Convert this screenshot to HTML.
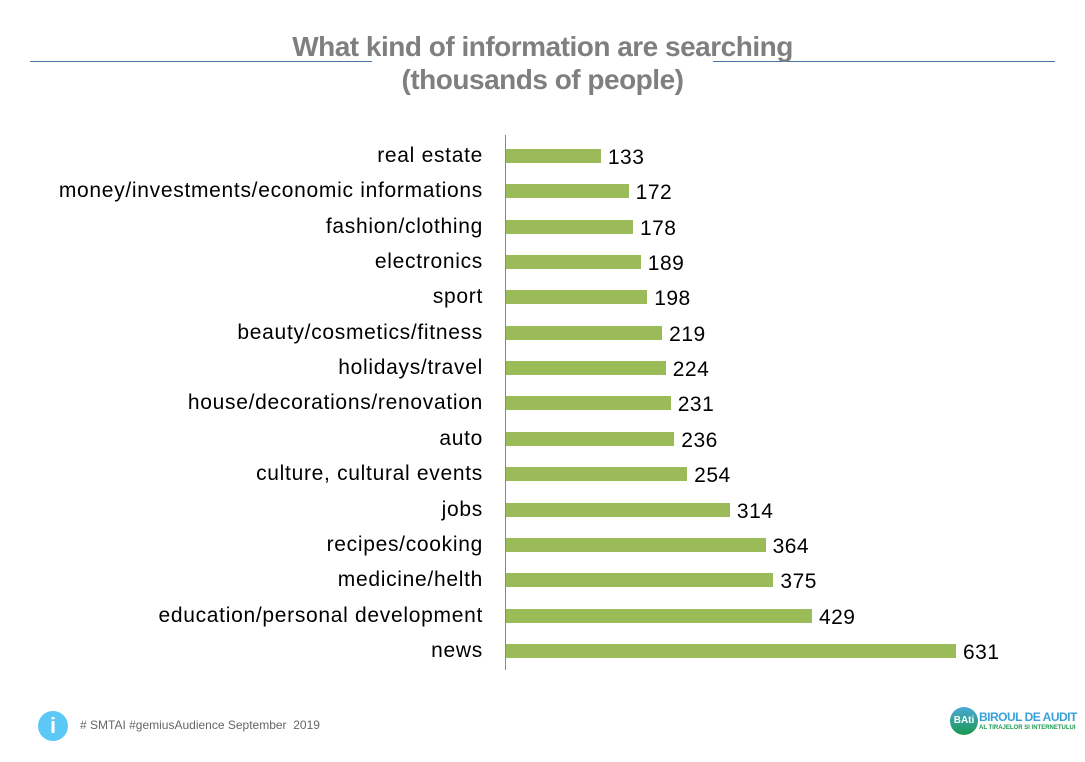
<!DOCTYPE html>
<html><head><meta charset="utf-8"><style>
body{margin:0;width:1085px;height:762px;background:#fff;position:relative;overflow:hidden;font-family:"Liberation Sans",sans-serif}
.t{position:absolute;left:0;width:1085px;text-align:center;color:#7f7f7f;font-weight:bold;font-size:28px;letter-spacing:-0.5px;line-height:32px}
.hl{position:absolute;top:61px;height:1px;background:#4a74a8}
.lb{position:absolute;right:602px;font-size:21px;letter-spacing:0.7px;color:#000;white-space:nowrap;line-height:22px}
.bar{position:absolute;left:506px;height:14px;background:#9bbb59}
.v{position:absolute;font-size:21px;letter-spacing:0.5px;color:#000;line-height:22px}
</style></head><body>
<div class="hl" style="left:30px;width:342px"></div>
<div class="hl" style="left:713px;width:342px"></div>
<div class="t" style="top:31px"><span style="padding:0 2px">What kind of information are searching</span></div>
<div class="t" style="top:64px">(thousands of people)</div>
<div style="position:absolute;left:505px;top:135px;width:1px;height:535px;background:#888"></div>
<div id="c"></div>
<script>
var d=[["real estate",133],["money/investments/economic informations",172],["fashion/clothing",178],["electronics",189],["sport",198],["beauty/cosmetics/fitness",219],["holidays/travel",224],["house/decorations/renovation",231],["auto",236],["culture, cultural events",254],["jobs",314],["recipes/cooking",364],["medicine/helth",375],["education/personal development",429],["news",631]];
var h="";d.forEach(function(r,i){var y=156+i*35.35;var w=r[1]*450/631;
h+='<div class="lb" style="top:'+(y-11)+'px">'+r[0]+'</div><div class="bar" style="top:'+(y-7)+'px;width:'+w+'px"></div><div class="v" style="top:'+(y-9)+'px;left:'+(506+w+7)+'px">'+r[1]+'</div>';});
document.getElementById("c").innerHTML=h;
</script>
<div style="position:absolute;left:38px;top:711px;width:30px;height:30px;border-radius:50%;background:#5bc8f5;color:#fff;font-weight:bold;font-size:22px;text-align:center;line-height:30px">i</div>
<div style="position:absolute;left:80px;top:718px;font-size:12px;color:#666">#&nbsp;SMTAI #gemiusAudience September&nbsp; 2019</div>
<div style="position:absolute;left:950px;top:707px;width:28px;height:28px;border-radius:50%;background:linear-gradient(#4aa8d8,#1a9a50);color:#fff;font-size:10px;font-weight:bold;text-align:center;line-height:28px">BAti</div>
<div style="position:absolute;left:979px;top:710px;font-size:12px;color:#3aa0d8;font-weight:bold;letter-spacing:-0.5px">BIROUL DE AUDIT</div>
<div style="position:absolute;left:979px;top:725px;font-size:6px;color:#1a9a50;font-weight:bold;white-space:nowrap">AL TIRAJELOR SI INTERNETULUI</div>
</body></html>
